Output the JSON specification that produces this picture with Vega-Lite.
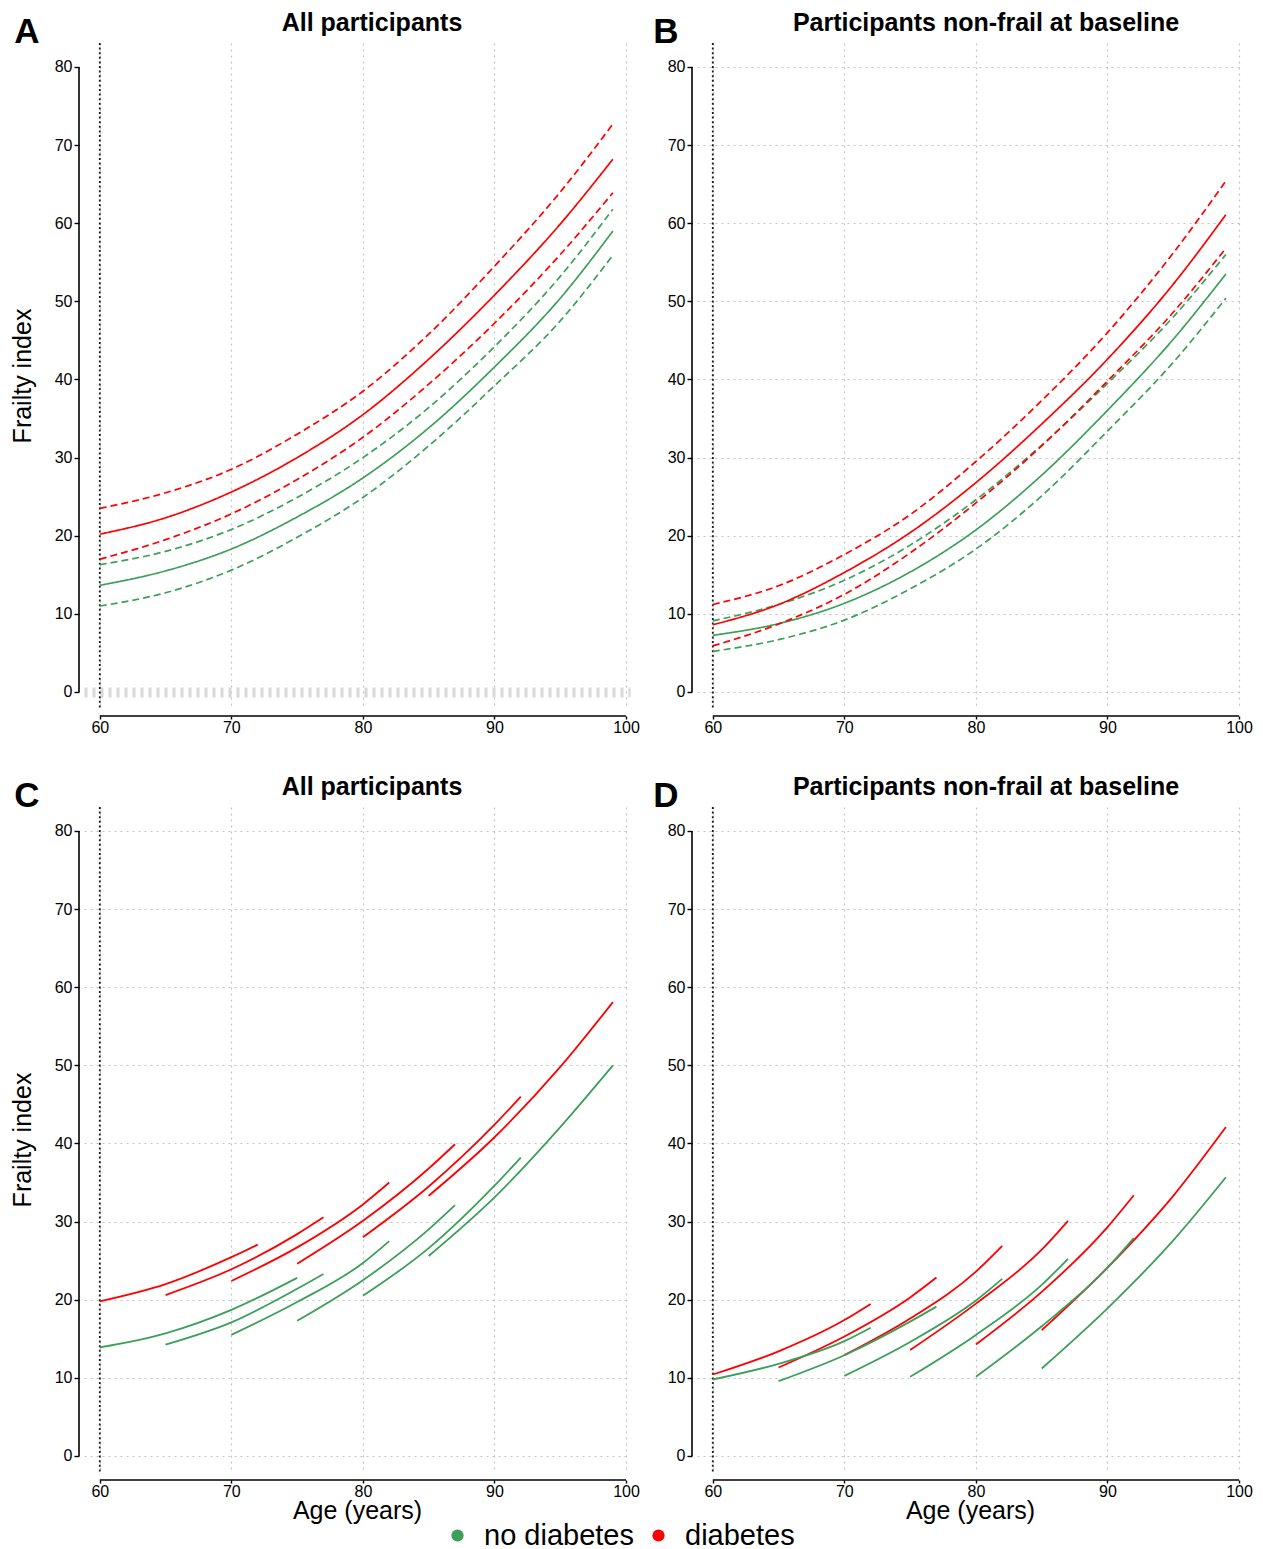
{
  "$schema": "https://vega.github.io/schema/vega-lite/v6.json",
  "background": "white",
  "padding": {"left": 10, "top": 11, "right": 4, "bottom": 2},
  "config": {
    "font": "Liberation Sans",
    "view": {"stroke": null},
    "axis": {
      "labelFont": "Liberation Sans", "labelFontSize": 16, "labelColor": "#000", "domain": false,
      "tickColor": "#000", "tickWidth": 1.4, "tickSize": 5,
      "labelPadding": 2, "titleFont": "Liberation Sans", "titleFontSize": 25, "titleFontWeight": "normal",
      "titleColor": "#000", "gridColor": "#c4c4c4", "gridDash": [2, 4], "gridWidth": 1.2
    },
    "axisX": {"tickSize": 3, "labelPadding": 0},
    "title": {"font": "Liberation Sans", "fontSize": 25, "fontWeight": "bold", "color": "#000", "offset": 6},
    "legend": {
      "symbolType": "circle", "symbolSize": 150, "symbolStrokeWidth": 0, "labelFontSize": 29, "gridAlign": "none",
      "labelFont": "Liberation Sans", "labelColor": "#000", "labelOffset": 12, "columnPadding": 10
    }
  },
  "datasets": {
    "A": [
      {"age":60,"fi":13.65,"group":"no diabetes","band":"est"},{"age":65,"fi":15.5,"group":"no diabetes","band":"est"},{"age":70,"fi":18.3,"group":"no diabetes","band":"est"},{"age":75,"fi":22.4,"group":"no diabetes","band":"est"},{"age":80,"fi":27.4,"group":"no diabetes","band":"est"},{"age":85,"fi":33.8,"group":"no diabetes","band":"est"},{"age":90,"fi":41.6,"group":"no diabetes","band":"est"},{"age":95,"fi":50.4,"group":"no diabetes","band":"est"},{"age":99,"fi":59.0,"group":"no diabetes","band":"est"},
      {"age":60,"fi":16.3,"group":"no diabetes","band":"hi"},{"age":65,"fi":18.0,"group":"no diabetes","band":"hi"},{"age":70,"fi":20.8,"group":"no diabetes","band":"hi"},{"age":75,"fi":24.9,"group":"no diabetes","band":"hi"},{"age":80,"fi":30.0,"group":"no diabetes","band":"hi"},{"age":85,"fi":36.4,"group":"no diabetes","band":"hi"},{"age":90,"fi":44.2,"group":"no diabetes","band":"hi"},{"age":95,"fi":53.2,"group":"no diabetes","band":"hi"},{"age":99,"fi":61.8,"group":"no diabetes","band":"hi"},
      {"age":60,"fi":11.0,"group":"no diabetes","band":"lo"},{"age":65,"fi":12.7,"group":"no diabetes","band":"lo"},{"age":70,"fi":15.6,"group":"no diabetes","band":"lo"},{"age":75,"fi":19.8,"group":"no diabetes","band":"lo"},{"age":80,"fi":24.9,"group":"no diabetes","band":"lo"},{"age":85,"fi":31.5,"group":"no diabetes","band":"lo"},{"age":90,"fi":39.2,"group":"no diabetes","band":"lo"},{"age":95,"fi":47.5,"group":"no diabetes","band":"lo"},{"age":99,"fi":55.9,"group":"no diabetes","band":"lo"},
      {"age":60,"fi":20.2,"group":"diabetes","band":"est"},{"age":65,"fi":22.3,"group":"diabetes","band":"est"},{"age":70,"fi":25.6,"group":"diabetes","band":"est"},{"age":75,"fi":30.0,"group":"diabetes","band":"est"},{"age":80,"fi":35.5,"group":"diabetes","band":"est"},{"age":85,"fi":42.6,"group":"diabetes","band":"est"},{"age":90,"fi":50.8,"group":"diabetes","band":"est"},{"age":95,"fi":59.9,"group":"diabetes","band":"est"},{"age":99,"fi":68.2,"group":"diabetes","band":"est"},
      {"age":60,"fi":23.5,"group":"diabetes","band":"hi"},{"age":65,"fi":25.5,"group":"diabetes","band":"hi"},{"age":70,"fi":28.5,"group":"diabetes","band":"hi"},{"age":75,"fi":33.0,"group":"diabetes","band":"hi"},{"age":80,"fi":38.5,"group":"diabetes","band":"hi"},{"age":85,"fi":45.8,"group":"diabetes","band":"hi"},{"age":90,"fi":54.5,"group":"diabetes","band":"hi"},{"age":95,"fi":64.0,"group":"diabetes","band":"hi"},{"age":99,"fi":72.7,"group":"diabetes","band":"hi"},
      {"age":60,"fi":17.0,"group":"diabetes","band":"lo"},{"age":65,"fi":19.5,"group":"diabetes","band":"lo"},{"age":70,"fi":22.8,"group":"diabetes","band":"lo"},{"age":75,"fi":27.2,"group":"diabetes","band":"lo"},{"age":80,"fi":32.6,"group":"diabetes","band":"lo"},{"age":85,"fi":39.4,"group":"diabetes","band":"lo"},{"age":90,"fi":47.2,"group":"diabetes","band":"lo"},{"age":95,"fi":56.0,"group":"diabetes","band":"lo"},{"age":99,"fi":63.9,"group":"diabetes","band":"lo"}
    ],
    "B": [
      {"age":60,"fi":7.25,"group":"no diabetes","band":"est"},{"age":65,"fi":8.75,"group":"no diabetes","band":"est"},{"age":70,"fi":11.35,"group":"no diabetes","band":"est"},{"age":75,"fi":15.35,"group":"no diabetes","band":"est"},{"age":80,"fi":20.75,"group":"no diabetes","band":"est"},{"age":85,"fi":27.75,"group":"no diabetes","band":"est"},{"age":90,"fi":36.05,"group":"no diabetes","band":"est"},{"age":95,"fi":45.15,"group":"no diabetes","band":"est"},{"age":99,"fi":53.5,"group":"no diabetes","band":"est"},
      {"age":60,"fi":9.1,"group":"no diabetes","band":"hi"},{"age":65,"fi":11.2,"group":"no diabetes","band":"hi"},{"age":70,"fi":14.3,"group":"no diabetes","band":"hi"},{"age":75,"fi":18.8,"group":"no diabetes","band":"hi"},{"age":80,"fi":24.6,"group":"no diabetes","band":"hi"},{"age":85,"fi":31.6,"group":"no diabetes","band":"hi"},{"age":90,"fi":39.5,"group":"no diabetes","band":"hi"},{"age":95,"fi":48.0,"group":"no diabetes","band":"hi"},{"age":99,"fi":56.0,"group":"no diabetes","band":"hi"},
      {"age":60,"fi":5.2,"group":"no diabetes","band":"lo"},{"age":65,"fi":6.7,"group":"no diabetes","band":"lo"},{"age":70,"fi":9.2,"group":"no diabetes","band":"lo"},{"age":75,"fi":13.2,"group":"no diabetes","band":"lo"},{"age":80,"fi":18.3,"group":"no diabetes","band":"lo"},{"age":85,"fi":25.1,"group":"no diabetes","band":"lo"},{"age":90,"fi":33.4,"group":"no diabetes","band":"lo"},{"age":95,"fi":42.2,"group":"no diabetes","band":"lo"},{"age":99,"fi":50.4,"group":"no diabetes","band":"lo"},
      {"age":60,"fi":8.6,"group":"diabetes","band":"est"},{"age":65,"fi":11.2,"group":"diabetes","band":"est"},{"age":70,"fi":15.3,"group":"diabetes","band":"est"},{"age":75,"fi":20.4,"group":"diabetes","band":"est"},{"age":80,"fi":26.8,"group":"diabetes","band":"est"},{"age":85,"fi":34.3,"group":"diabetes","band":"est"},{"age":90,"fi":42.6,"group":"diabetes","band":"est"},{"age":95,"fi":52.2,"group":"diabetes","band":"est"},{"age":99,"fi":61.1,"group":"diabetes","band":"est"},
      {"age":60,"fi":11.2,"group":"diabetes","band":"hi"},{"age":65,"fi":13.6,"group":"diabetes","band":"hi"},{"age":70,"fi":17.6,"group":"diabetes","band":"hi"},{"age":75,"fi":22.7,"group":"diabetes","band":"hi"},{"age":80,"fi":29.5,"group":"diabetes","band":"hi"},{"age":85,"fi":37.3,"group":"diabetes","band":"hi"},{"age":90,"fi":46.0,"group":"diabetes","band":"hi"},{"age":95,"fi":56.2,"group":"diabetes","band":"hi"},{"age":99,"fi":65.4,"group":"diabetes","band":"hi"},
      {"age":60,"fi":5.9,"group":"diabetes","band":"lo"},{"age":65,"fi":8.7,"group":"diabetes","band":"lo"},{"age":70,"fi":12.5,"group":"diabetes","band":"lo"},{"age":75,"fi":17.8,"group":"diabetes","band":"lo"},{"age":80,"fi":24.2,"group":"diabetes","band":"lo"},{"age":85,"fi":31.5,"group":"diabetes","band":"lo"},{"age":90,"fi":39.8,"group":"diabetes","band":"lo"},{"age":95,"fi":48.6,"group":"diabetes","band":"lo"},{"age":99,"fi":56.8,"group":"diabetes","band":"lo"}
    ],
    "C": [
      {"seg":"r1","group":"diabetes","age":60,"fi":19.8},{"seg":"r1","group":"diabetes","age":65,"fi":22.0},{"seg":"r1","group":"diabetes","age":70,"fi":25.45},{"seg":"r1","group":"diabetes","age":72,"fi":27.05},
      {"seg":"r2","group":"diabetes","age":65,"fi":20.6},{"seg":"r2","group":"diabetes","age":70,"fi":23.9},{"seg":"r2","group":"diabetes","age":75,"fi":28.4},{"seg":"r2","group":"diabetes","age":77,"fi":30.55},
      {"seg":"r3","group":"diabetes","age":70,"fi":22.4},{"seg":"r3","group":"diabetes","age":75,"fi":26.7},{"seg":"r3","group":"diabetes","age":80,"fi":32.2},{"seg":"r3","group":"diabetes","age":82,"fi":35.0},
      {"seg":"r4","group":"diabetes","age":75,"fi":24.6},{"seg":"r4","group":"diabetes","age":80,"fi":30.1},{"seg":"r4","group":"diabetes","age":85,"fi":36.8},{"seg":"r4","group":"diabetes","age":87,"fi":39.9},
      {"seg":"r5","group":"diabetes","age":80,"fi":28.0},{"seg":"r5","group":"diabetes","age":85,"fi":34.5},{"seg":"r5","group":"diabetes","age":90,"fi":42.4},{"seg":"r5","group":"diabetes","age":92,"fi":46.0},
      {"seg":"r6","group":"diabetes","age":85,"fi":33.3},{"seg":"r6","group":"diabetes","age":90,"fi":40.8},{"seg":"r6","group":"diabetes","age":95,"fi":49.8},{"seg":"r6","group":"diabetes","age":99,"fi":58.1},
      {"seg":"g1","group":"no diabetes","age":60,"fi":13.9},{"seg":"g1","group":"no diabetes","age":65,"fi":15.7},{"seg":"g1","group":"no diabetes","age":70,"fi":18.7},{"seg":"g1","group":"no diabetes","age":75,"fi":22.8},
      {"seg":"g2","group":"no diabetes","age":65,"fi":14.25},{"seg":"g2","group":"no diabetes","age":70,"fi":17.1},{"seg":"g2","group":"no diabetes","age":75,"fi":21.4},{"seg":"g2","group":"no diabetes","age":77,"fi":23.3},
      {"seg":"g3","group":"no diabetes","age":70,"fi":15.5},{"seg":"g3","group":"no diabetes","age":75,"fi":19.7},{"seg":"g3","group":"no diabetes","age":80,"fi":24.7},{"seg":"g3","group":"no diabetes","age":82,"fi":27.5},
      {"seg":"g4","group":"no diabetes","age":75,"fi":17.3},{"seg":"g4","group":"no diabetes","age":80,"fi":22.5},{"seg":"g4","group":"no diabetes","age":85,"fi":29.0},{"seg":"g4","group":"no diabetes","age":87,"fi":32.1},
      {"seg":"g5","group":"no diabetes","age":80,"fi":20.5},{"seg":"g5","group":"no diabetes","age":85,"fi":26.6},{"seg":"g5","group":"no diabetes","age":90,"fi":34.6},{"seg":"g5","group":"no diabetes","age":92,"fi":38.2},
      {"seg":"g6","group":"no diabetes","age":85,"fi":25.6},{"seg":"g6","group":"no diabetes","age":90,"fi":33.1},{"seg":"g6","group":"no diabetes","age":95,"fi":42.1},{"seg":"g6","group":"no diabetes","age":99,"fi":50.0}
    ],
    "D": [
      {"seg":"r1","group":"diabetes","age":60,"fi":10.43},{"seg":"r1","group":"diabetes","age":65,"fi":13.4},{"seg":"r1","group":"diabetes","age":70,"fi":17.4},{"seg":"r1","group":"diabetes","age":72,"fi":19.46},
      {"seg":"r2","group":"diabetes","age":65,"fi":11.33},{"seg":"r2","group":"diabetes","age":70,"fi":15.3},{"seg":"r2","group":"diabetes","age":75,"fi":20.3},{"seg":"r2","group":"diabetes","age":77,"fi":22.84},
      {"seg":"r3","group":"diabetes","age":70,"fi":12.91},{"seg":"r3","group":"diabetes","age":75,"fi":17.6},{"seg":"r3","group":"diabetes","age":80,"fi":23.6},{"seg":"r3","group":"diabetes","age":82,"fi":26.9},
      {"seg":"r4","group":"diabetes","age":75,"fi":13.56},{"seg":"r4","group":"diabetes","age":80,"fi":19.5},{"seg":"r4","group":"diabetes","age":85,"fi":26.4},{"seg":"r4","group":"diabetes","age":87,"fi":30.1},
      {"seg":"r5","group":"diabetes","age":80,"fi":14.28},{"seg":"r5","group":"diabetes","age":85,"fi":21.0},{"seg":"r5","group":"diabetes","age":90,"fi":29.3},{"seg":"r5","group":"diabetes","age":92,"fi":33.37},
      {"seg":"r6","group":"diabetes","age":85,"fi":16.1},{"seg":"r6","group":"diabetes","age":90,"fi":24.1},{"seg":"r6","group":"diabetes","age":95,"fi":33.3},{"seg":"r6","group":"diabetes","age":99,"fi":42.1},
      {"seg":"g1","group":"no diabetes","age":60,"fi":9.79},{"seg":"g1","group":"no diabetes","age":65,"fi":11.8},{"seg":"g1","group":"no diabetes","age":70,"fi":14.7},{"seg":"g1","group":"no diabetes","age":72,"fi":16.42},
      {"seg":"g2","group":"no diabetes","age":65,"fi":9.58},{"seg":"g2","group":"no diabetes","age":70,"fi":12.9},{"seg":"g2","group":"no diabetes","age":75,"fi":17.2},{"seg":"g2","group":"no diabetes","age":77,"fi":19.12},
      {"seg":"g3","group":"no diabetes","age":70,"fi":10.26},{"seg":"g3","group":"no diabetes","age":75,"fi":14.6},{"seg":"g3","group":"no diabetes","age":80,"fi":19.9},{"seg":"g3","group":"no diabetes","age":82,"fi":22.67},
      {"seg":"g4","group":"no diabetes","age":75,"fi":10.13},{"seg":"g4","group":"no diabetes","age":80,"fi":15.5},{"seg":"g4","group":"no diabetes","age":85,"fi":21.9},{"seg":"g4","group":"no diabetes","age":87,"fi":25.24},
      {"seg":"g5","group":"no diabetes","age":80,"fi":10.13},{"seg":"g5","group":"no diabetes","age":85,"fi":16.6},{"seg":"g5","group":"no diabetes","age":90,"fi":24.1},{"seg":"g5","group":"no diabetes","age":92,"fi":27.89},
      {"seg":"g6","group":"no diabetes","age":85,"fi":11.2},{"seg":"g6","group":"no diabetes","age":90,"fi":18.9},{"seg":"g6","group":"no diabetes","age":95,"fi":27.6},{"seg":"g6","group":"no diabetes","age":99,"fi":35.68}
    ]
  },
  "spacing": 40,
  "resolve": {"scale": {"color": "shared", "strokeDash": "shared"}},
  "vconcat": [
    {
      "spacing": 13,
      "hconcat": [
        {
          "title": {"text": "A", "anchor": "start", "fontSize": 35, "fontWeight": "bold", "offset": -39, "dx": 4, "frame": "bounds"},
          "vconcat": [
            {
              "title": {"text": "All participants", "dx": 15},
              "width": 546, "height": 665,
              "layer": [
                {
                  "data": {"values": [{}]},
                  "mark": {"type": "rule", "color": "#1a1a1a", "strokeDash": [2, 2.6], "strokeWidth": 1.8},
                  "encoding": {"x": {"datum": 60, "type": "quantitative", "scale": {"domain": [58.8, 100.3], "nice": false, "zero": false}}}
                },
                {
                  "data": {"values": [{}]},
                  "mark": {"type": "rule", "color": "#000", "strokeWidth": 1.6, "clip": false},
                  "encoding": {
                    "x": {"datum": 58.42, "type": "quantitative", "scale": {"domain": [58.8, 100.3], "nice": false, "zero": false}},
                    "y": {"datum": 0, "type": "quantitative", "scale": {"domain": [-2.05, 83.07], "nice": false, "zero": false}},
                    "y2": {"datum": 80}
                  }
                },
                {
                  "data": {"values": [{}]},
                  "mark": {"type": "rule", "color": "#000", "strokeWidth": 1.6, "clip": false},
                  "encoding": {
                    "x": {"datum": 60, "type": "quantitative", "scale": {"domain": [58.8, 100.3], "nice": false, "zero": false}},
                    "x2": {"datum": 100},
                    "y": {"datum": -3.07, "type": "quantitative", "scale": {"domain": [-2.05, 83.07], "nice": false, "zero": false}}
                  }
                },
                {
                  "data": {"name": "A"},
                  "mark": {"type": "line", "strokeWidth": 1.7, "interpolate": "monotone"},
                  "encoding": {
                    "x": {"field": "age", "type": "quantitative", "scale": {"domain": [58.8, 100.3], "nice": false, "zero": false},
                          "axis": {"title": null, "values": [60, 70, 80, 90, 100], "offset": 8, "grid": true}},
                    "y": {"field": "fi", "type": "quantitative", "scale": {"domain": [-2.05, 83.07], "nice": false, "zero": false},
                          "axis": {"title": "Frailty index", "values": [0, 10, 20, 30, 40, 50, 60, 70, 80], "offset": 5, "titlePadding": 19, "grid": true,
                                   "gridWidth": 10, "gridDash": [3, 5], "gridColor": "#d8d8d8",
                                   "gridOpacity": {"condition": {"test": "datum.value === 0", "value": 1}, "value": 0}}},
                    "color": {"field": "group", "type": "nominal", "scale": {"domain": ["no diabetes", "diabetes"], "range": ["#3c9f5a", "#ff0000"]},
                              "legend": {"title": null, "orient": "none", "direction": "horizontal", "legendX": 359, "legendY": 1478,
                                         "encode": {"symbols": {"update": {"fill": {"scale": "color", "field": "value"}, "fillOpacity": {"value": 1}}}}}},
                    "strokeDash": {"field": "band", "type": "nominal", "scale": {"domain": ["est", "lo", "hi"], "range": [[1, 0], [7, 4], [7, 4]]}, "legend": null}
                  }
                }
              ]
            }
          ]
        },
        {
          "title": {"text": "B", "anchor": "start", "fontSize": 35, "fontWeight": "bold", "offset": -39, "dx": -14, "frame": "bounds"},
          "vconcat": [
            {
              "title": {"text": "Participants non-frail at baseline", "dx": 16},
              "width": 546, "height": 665,
              "layer": [
                {
                  "data": {"values": [{}]},
                  "mark": {"type": "rule", "color": "#1a1a1a", "strokeDash": [2, 2.6], "strokeWidth": 1.8},
                  "encoding": {"x": {"datum": 60, "type": "quantitative", "scale": {"domain": [58.8, 100.3], "nice": false, "zero": false}}}
                },
                {
                  "data": {"values": [{}]},
                  "mark": {"type": "rule", "color": "#000", "strokeWidth": 1.6, "clip": false},
                  "encoding": {
                    "x": {"datum": 58.42, "type": "quantitative", "scale": {"domain": [58.8, 100.3], "nice": false, "zero": false}},
                    "y": {"datum": 0, "type": "quantitative", "scale": {"domain": [-2.05, 83.07], "nice": false, "zero": false}},
                    "y2": {"datum": 80}
                  }
                },
                {
                  "data": {"values": [{}]},
                  "mark": {"type": "rule", "color": "#000", "strokeWidth": 1.6, "clip": false},
                  "encoding": {
                    "x": {"datum": 60, "type": "quantitative", "scale": {"domain": [58.8, 100.3], "nice": false, "zero": false}},
                    "x2": {"datum": 100},
                    "y": {"datum": -3.07, "type": "quantitative", "scale": {"domain": [-2.05, 83.07], "nice": false, "zero": false}}
                  }
                },
                {
                  "data": {"name": "B"},
                  "mark": {"type": "line", "strokeWidth": 1.7, "interpolate": "monotone"},
                  "encoding": {
                    "x": {"field": "age", "type": "quantitative", "scale": {"domain": [58.8, 100.3], "nice": false, "zero": false},
                          "axis": {"title": null, "values": [60, 70, 80, 90, 100], "offset": 8, "grid": true}},
                    "y": {"field": "fi", "type": "quantitative", "scale": {"domain": [-2.05, 83.07], "nice": false, "zero": false},
                          "axis": {"title": null, "values": [0, 10, 20, 30, 40, 50, 60, 70, 80], "offset": 5, "grid": true}},
                    "color": {"field": "group", "type": "nominal", "scale": {"domain": ["no diabetes", "diabetes"], "range": ["#3c9f5a", "#ff0000"]},
                              "legend": {"title": null, "orient": "none", "direction": "horizontal", "legendX": 359, "legendY": 1478,
                                         "encode": {"symbols": {"update": {"fill": {"scale": "color", "field": "value"}, "fillOpacity": {"value": 1}}}}}},
                    "strokeDash": {"field": "band", "type": "nominal", "scale": {"domain": ["est", "lo", "hi"], "range": [[1, 0], [7, 4], [7, 4]]}, "legend": null}
                  }
                }
              ]
            }
          ]
        }
      ]
    },
    {
      "spacing": 13,
      "hconcat": [
        {
          "title": {"text": "C", "anchor": "start", "fontSize": 35, "fontWeight": "bold", "offset": -39, "dx": 4, "frame": "bounds"},
          "vconcat": [
            {
              "title": {"text": "All participants", "dx": 15},
              "width": 546, "height": 665,
              "layer": [
                {
                  "data": {"values": [{}]},
                  "mark": {"type": "rule", "color": "#1a1a1a", "strokeDash": [2, 2.6], "strokeWidth": 1.8},
                  "encoding": {"x": {"datum": 60, "type": "quantitative", "scale": {"domain": [58.8, 100.3], "nice": false, "zero": false}}}
                },
                {
                  "data": {"values": [{}]},
                  "mark": {"type": "rule", "color": "#000", "strokeWidth": 1.6, "clip": false},
                  "encoding": {
                    "x": {"datum": 58.42, "type": "quantitative", "scale": {"domain": [58.8, 100.3], "nice": false, "zero": false}},
                    "y": {"datum": 0, "type": "quantitative", "scale": {"domain": [-2.05, 83.07], "nice": false, "zero": false}},
                    "y2": {"datum": 80}
                  }
                },
                {
                  "data": {"values": [{}]},
                  "mark": {"type": "rule", "color": "#000", "strokeWidth": 1.6, "clip": false},
                  "encoding": {
                    "x": {"datum": 60, "type": "quantitative", "scale": {"domain": [58.8, 100.3], "nice": false, "zero": false}},
                    "x2": {"datum": 100},
                    "y": {"datum": -3.07, "type": "quantitative", "scale": {"domain": [-2.05, 83.07], "nice": false, "zero": false}}
                  }
                },
                {
                  "data": {"name": "C"},
                  "mark": {"type": "line", "strokeWidth": 1.8, "interpolate": "monotone"},
                  "encoding": {
                    "x": {"field": "age", "type": "quantitative", "scale": {"domain": [58.8, 100.3], "nice": false, "zero": false},
                          "axis": {"title": "Age (years)", "values": [60, 70, 80, 90, 100], "offset": 8, "grid": true, "titlePadding": -1}},
                    "y": {"field": "fi", "type": "quantitative", "scale": {"domain": [-2.05, 83.07], "nice": false, "zero": false},
                          "axis": {"title": "Frailty index", "values": [0, 10, 20, 30, 40, 50, 60, 70, 80], "offset": 5, "titlePadding": 19, "grid": true}},
                    "color": {"field": "group", "type": "nominal", "scale": {"domain": ["no diabetes", "diabetes"], "range": ["#3c9f5a", "#ff0000"]},
                              "legend": {"title": null, "orient": "none", "direction": "horizontal", "legendX": 359, "legendY": 1478,
                                         "encode": {"symbols": {"update": {"fill": {"scale": "color", "field": "value"}, "fillOpacity": {"value": 1}}}}}},
                    "detail": {"field": "seg", "type": "nominal"}
                  }
                }
              ]
            }
          ]
        },
        {
          "title": {"text": "D", "anchor": "start", "fontSize": 35, "fontWeight": "bold", "offset": -39, "dx": -14, "frame": "bounds"},
          "vconcat": [
            {
              "title": {"text": "Participants non-frail at baseline", "dx": 16},
              "width": 546, "height": 665,
              "layer": [
                {
                  "data": {"values": [{}]},
                  "mark": {"type": "rule", "color": "#1a1a1a", "strokeDash": [2, 2.6], "strokeWidth": 1.8},
                  "encoding": {"x": {"datum": 60, "type": "quantitative", "scale": {"domain": [58.8, 100.3], "nice": false, "zero": false}}}
                },
                {
                  "data": {"values": [{}]},
                  "mark": {"type": "rule", "color": "#000", "strokeWidth": 1.6, "clip": false},
                  "encoding": {
                    "x": {"datum": 58.42, "type": "quantitative", "scale": {"domain": [58.8, 100.3], "nice": false, "zero": false}},
                    "y": {"datum": 0, "type": "quantitative", "scale": {"domain": [-2.05, 83.07], "nice": false, "zero": false}},
                    "y2": {"datum": 80}
                  }
                },
                {
                  "data": {"values": [{}]},
                  "mark": {"type": "rule", "color": "#000", "strokeWidth": 1.6, "clip": false},
                  "encoding": {
                    "x": {"datum": 60, "type": "quantitative", "scale": {"domain": [58.8, 100.3], "nice": false, "zero": false}},
                    "x2": {"datum": 100},
                    "y": {"datum": -3.07, "type": "quantitative", "scale": {"domain": [-2.05, 83.07], "nice": false, "zero": false}}
                  }
                },
                {
                  "data": {"name": "D"},
                  "mark": {"type": "line", "strokeWidth": 1.8, "interpolate": "monotone"},
                  "encoding": {
                    "x": {"field": "age", "type": "quantitative", "scale": {"domain": [58.8, 100.3], "nice": false, "zero": false},
                          "axis": {"title": "Age (years)", "values": [60, 70, 80, 90, 100], "offset": 8, "grid": true, "titlePadding": -1}},
                    "y": {"field": "fi", "type": "quantitative", "scale": {"domain": [-2.05, 83.07], "nice": false, "zero": false},
                          "axis": {"title": null, "values": [0, 10, 20, 30, 40, 50, 60, 70, 80], "offset": 5, "grid": true}},
                    "color": {"field": "group", "type": "nominal", "scale": {"domain": ["no diabetes", "diabetes"], "range": ["#3c9f5a", "#ff0000"]},
                              "legend": {"title": null, "orient": "none", "direction": "horizontal", "legendX": 359, "legendY": 1478,
                                         "encode": {"symbols": {"update": {"fill": {"scale": "color", "field": "value"}, "fillOpacity": {"value": 1}}}}}},
                    "detail": {"field": "seg", "type": "nominal"}
                  }
                }
              ]
            }
          ]
        }
      ]
    }
  ]
}
